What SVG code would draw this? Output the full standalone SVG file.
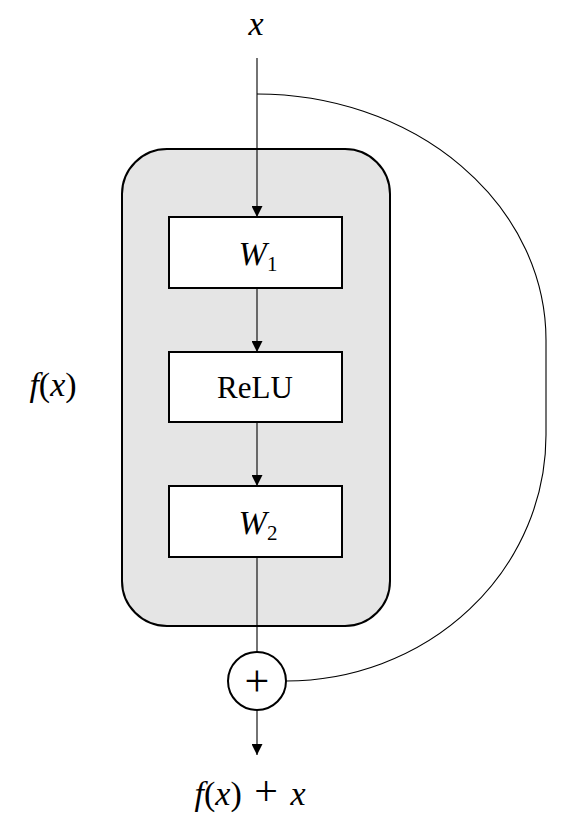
<svg xmlns="http://www.w3.org/2000/svg" width="579" height="836" viewBox="0 0 579 836">
<style>
.t{font-family:"Liberation Serif","Times New Roman",serif;fill:#000}
.i{font-style:italic}
.box{fill:#fff;stroke:#000;stroke-width:2}
.c{fill:none;stroke:#000;stroke-width:1.1}
</style>
<defs>
<marker id="ah" viewBox="0 0 10 10" refX="10" refY="5" markerWidth="12" markerHeight="11" markerUnits="userSpaceOnUse" orient="auto">
<path d="M0,0 L10,5 L0,10 Z" fill="#000"/>
</marker>
</defs>
<g id="container">
<rect x="122" y="149" width="268" height="477" rx="45" ry="45" fill="#e5e5e5" stroke="#000" stroke-width="2"/>
</g>
<g id="connectors">
<line class="c" x1="257" y1="58" x2="257" y2="217" marker-end="url(#ah)"/>
<line class="c" x1="257" y1="288" x2="257" y2="352" marker-end="url(#ah)"/>
<line class="c" x1="257" y1="422" x2="257" y2="486" marker-end="url(#ah)"/>
<line class="c" x1="257" y1="557" x2="257" y2="652"/>
<line class="c" x1="257" y1="710" x2="257" y2="755" marker-end="url(#ah)"/>
<path class="c" d="M257,94 A289,246 0 0 1 546,340 L546,435 A260,246 0 0 1 286,681"/>
</g>
<g id="label-x"><text class="t i" x="256" y="35" font-size="34" text-anchor="middle">x</text></g>
<g id="W1">
<rect class="box" x="169" y="217" width="173" height="71"/>
<text class="t" x="258" y="265" font-size="31" text-anchor="middle"><tspan class="i" font-size="34">W</tspan><tspan font-size="21" dy="6">1</tspan></text>
</g>
<g id="ReLU">
<rect class="box" x="169" y="352" width="173" height="70"/>
<text class="t" x="255" y="398" font-size="31" text-anchor="middle">ReLU</text>
</g>
<g id="W2">
<rect class="box" x="169" y="486" width="173" height="71"/>
<text class="t" x="258" y="534" font-size="31" text-anchor="middle"><tspan class="i" font-size="34">W</tspan><tspan font-size="21" dy="6">2</tspan></text>
</g>
<g id="plus">
<circle cx="257" cy="681" r="29" fill="#fff" stroke="#000" stroke-width="2"/>
<text class="t" x="257" y="696" font-size="44" text-anchor="middle">+</text>
</g>
<g id="label-fx"><text class="t" x="53" y="396" font-size="34" text-anchor="middle"><tspan class="i">f</tspan>(<tspan class="i">x</tspan>)</text></g>
<g id="label-out"><text class="t" x="250" y="805" font-size="34" text-anchor="middle"><tspan class="i">f</tspan>(<tspan class="i">x</tspan>)<tspan dx="4"> </tspan><tspan font-size="42">+</tspan><tspan dx="4"> </tspan><tspan class="i">x</tspan></text></g>
</svg>
